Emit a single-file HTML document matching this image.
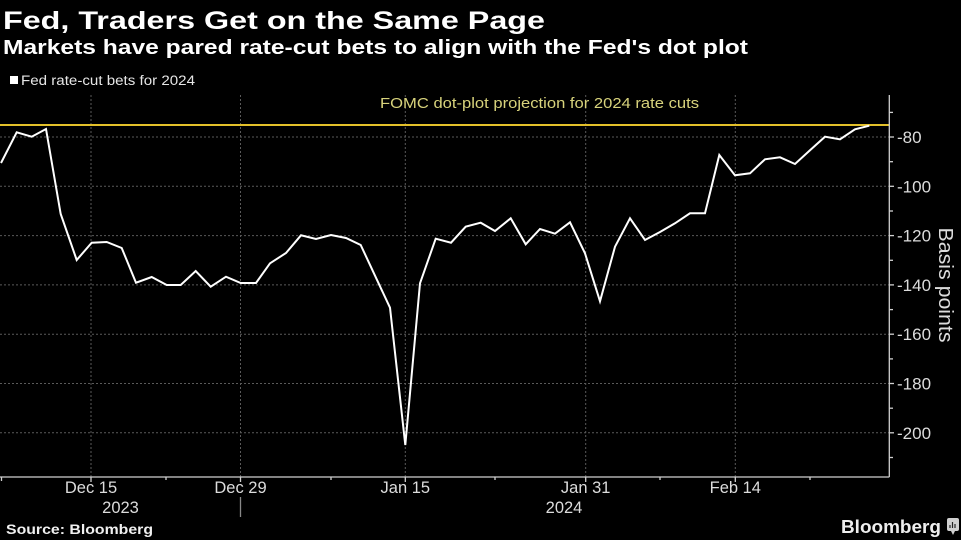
<!DOCTYPE html>
<html><head><meta charset="utf-8"><style>
html,body{margin:0;padding:0;background:#000;}
svg{display:block;}
text{font-family:"Liberation Sans",sans-serif;}
</style></head><body>
<svg width="961" height="540" viewBox="0 0 961 540" xmlns="http://www.w3.org/2000/svg">
<rect width="961" height="540" fill="#000"/>
<text x="3" y="29" font-size="25" font-weight="bold" fill="#fff" textLength="542" lengthAdjust="spacingAndGlyphs">Fed, Traders Get on the Same Page</text>
<text x="3" y="54" font-size="20" font-weight="bold" fill="#fff" textLength="745" lengthAdjust="spacingAndGlyphs">Markets have pared rate-cut bets to align with the Fed's dot plot</text>
<rect x="10" y="76" width="8" height="8" fill="#fff"/>
<text x="21" y="85" font-size="13.5" fill="#e6e6e6" textLength="174" lengthAdjust="spacingAndGlyphs">Fed rate-cut bets for 2024</text>

<!-- gridlines -->
<g stroke="#5a5a5a" stroke-width="1" stroke-dasharray="2,2">
<line x1="0" y1="137" x2="889" y2="137"/>
<line x1="0" y1="186.3" x2="889" y2="186.3"/>
<line x1="0" y1="235.6" x2="889" y2="235.6"/>
<line x1="0" y1="284.9" x2="889" y2="284.9"/>
<line x1="0" y1="334.2" x2="889" y2="334.2"/>
<line x1="0" y1="383.5" x2="889" y2="383.5"/>
<line x1="0" y1="432.8" x2="889" y2="432.8"/>
<line x1="91" y1="95" x2="91" y2="477"/>
<line x1="240.5" y1="95" x2="240.5" y2="477"/>
<line x1="405.3" y1="95" x2="405.3" y2="477"/>
<line x1="585.7" y1="95" x2="585.7" y2="477"/>
<line x1="735.3" y1="95" x2="735.3" y2="477"/>
</g>

<!-- FOMC line -->
<line x1="0" y1="125" x2="889" y2="125" stroke="#e3c02a" stroke-width="2"/>
<text x="380" y="108" font-size="15" fill="#d8d37c" textLength="319" lengthAdjust="spacingAndGlyphs">FOMC dot-plot projection for 2024 rate cuts</text>

<!-- axes -->
<g stroke="#d0d0d0" stroke-width="1.3" fill="none">
<line x1="889.3" y1="95" x2="889.3" y2="477"/>
<line x1="0" y1="477" x2="889.3" y2="477"/>
<!-- y ticks -->
<line x1="889" y1="112.4" x2="893" y2="112.4"/>
<line x1="889" y1="137" x2="894" y2="137"/>
<line x1="889" y1="161.7" x2="893" y2="161.7"/>
<line x1="889" y1="186.3" x2="894" y2="186.3"/>
<line x1="889" y1="211" x2="893" y2="211"/>
<line x1="889" y1="235.6" x2="894" y2="235.6"/>
<line x1="889" y1="260.3" x2="893" y2="260.3"/>
<line x1="889" y1="284.9" x2="894" y2="284.9"/>
<line x1="889" y1="309.6" x2="893" y2="309.6"/>
<line x1="889" y1="334.2" x2="894" y2="334.2"/>
<line x1="889" y1="358.9" x2="893" y2="358.9"/>
<line x1="889" y1="383.5" x2="894" y2="383.5"/>
<line x1="889" y1="408.2" x2="893" y2="408.2"/>
<line x1="889" y1="432.8" x2="894" y2="432.8"/>
<line x1="889" y1="457.5" x2="893" y2="457.5"/>
<!-- x ticks -->
<line x1="1.5" y1="477" x2="1.5" y2="481"/>
<line x1="91" y1="477" x2="91" y2="482"/>
<line x1="166" y1="477" x2="166" y2="480"/>
<line x1="240.5" y1="477" x2="240.5" y2="482"/>
<line x1="331" y1="477" x2="331" y2="480"/>
<line x1="405.3" y1="477" x2="405.3" y2="482"/>
<line x1="495" y1="477" x2="495" y2="480"/>
<line x1="585.7" y1="477" x2="585.7" y2="482"/>
<line x1="660" y1="477" x2="660" y2="480"/>
<line x1="735.3" y1="477" x2="735.3" y2="482"/>
<line x1="810" y1="477" x2="810" y2="480"/>
<line x1="240.5" y1="497" x2="240.5" y2="517" stroke="#888"/>
</g>

<!-- y labels -->
<g font-size="17" fill="#dcdcdc">
<text x="897" y="143">-80</text>
<text x="897" y="192.3">-100</text>
<text x="897" y="241.6">-120</text>
<text x="897" y="290.9">-140</text>
<text x="897" y="340.2">-160</text>
<text x="897" y="389.5">-180</text>
<text x="897" y="438.8">-200</text>
</g>
<text transform="translate(939,285) rotate(90)" text-anchor="middle" font-size="20" fill="#dcdcdc" textLength="115" lengthAdjust="spacingAndGlyphs">Basis points</text>

<!-- x labels -->
<g font-size="16.5" fill="#dcdcdc" text-anchor="middle">
<text x="91" y="493">Dec 15</text>
<text x="240.5" y="493">Dec 29</text>
<text x="405.3" y="493">Jan 15</text>
<text x="585.7" y="493">Jan 31</text>
<text x="735.3" y="493">Feb 14</text>
<text x="120.5" y="513">2023</text>
<text x="564" y="513">2024</text>
</g>

<!-- data line -->
<polyline fill="none" stroke="#fff" stroke-width="2" stroke-linejoin="miter" points="1,163 16.7,132.3 31.7,136.7 46,129 60.7,214 76.7,260 91.7,242.7 106.7,242 121.7,248 136,282.7 151.7,277 166.7,285 180.7,285 195.7,271 210.7,286.7 226,276.7 240.7,283 256,283 270,263.3 286,253 301,235.3 316,239 331,235 346,238 360.7,245 390,307.7 405.3,445 420,283.3 435.7,238.7 451,242.7 465.7,226.7 480.7,222.7 495,231 510.7,218.3 525.7,244.3 540,229 555,233.7 570,222.3 585,253.3 600,301.3 615,246.7 630,218.3 645,240 660,232 675,223.3 690,213.3 705,213.3 719.3,155 735,175.3 750,173.3 765,159.3 780,157.3 795,164 810,150.3 825,136.7 840,139.3 855,129.3 869.3,125.7"/>

<!-- footer -->
<text x="6" y="534" font-size="14" font-weight="bold" fill="#f0f0f0" textLength="147" lengthAdjust="spacingAndGlyphs">Source: Bloomberg</text>
<text x="841" y="533" font-size="18" font-weight="bold" fill="#eeeeee" textLength="100" lengthAdjust="spacingAndGlyphs">Bloomberg</text>
<rect x="947" y="518" width="12" height="13" rx="2" fill="#cfcfcf"/>
<polygon points="951,531 955,531 953,535" fill="#cfcfcf"/>
<g stroke="#222" stroke-width="1.2">
<line x1="950" y1="528" x2="950" y2="525"/>
<line x1="952.5" y1="528" x2="952.5" y2="522"/>
<line x1="955" y1="528" x2="955" y2="524"/>
</g>
</svg>
</body></html>
